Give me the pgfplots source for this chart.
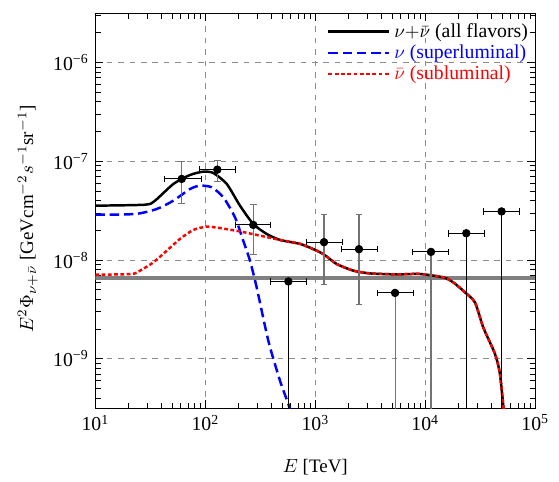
\documentclass[border=0pt]{standalone}
\usepackage{fontspec}
\setmainfont{Liberation Serif}
\usepackage{pgfplots}
\pgfplotsset{compat=1.18}

\begin{document}
\begin{tikzpicture}
\begin{axis}[
  name=ax,
  scale only axis, width=231.6pt, height=207.9pt,
  xmode=log, ymode=log,
  xmin=10, xmax=1e5, ymin=3.16e-10, ymax=3.16e-6,
  xtick={10,100,1000,10000,100000},
  xticklabels={10\textsuperscript{1},10\textsuperscript{2},10\textsuperscript{3},10\textsuperscript{4},10\textsuperscript{5}},
  ytick={1e-10,1e-9,1e-8,1e-7,1e-6,1e-5},
  yticklabels={10\textsuperscript{−10},10\textsuperscript{−9},10\textsuperscript{−8},10\textsuperscript{−7},10\textsuperscript{−6},10\textsuperscript{−5}},
  tick label style={font=\fontsize{10.4}{12}\selectfont},
  label style={font=\fontsize{10.4}{12}\selectfont},
  grid=major, major grid style={dashed, black!45, line width=0.5pt},
  tick style={black, line width=0.5pt},
  axis line style={line width=0.6pt},
  xlabel={$E$ [TeV]},
  every axis x label/.style={at={(axis description cs:0.5,0)}, yshift=-30.9pt, anchor=center},
  ylabel={$E^2\Phi_{\nu+\bar{\nu}}$ [GeVcm$^{-2}$$s^{-1}$sr$^{-1}$]},
  every axis y label/.style={at={(axis description cs:0,0.48)}, xshift=-35.6pt, rotate=90, anchor=center},
  legend style={at={(axis description cs:0.997,0.99)}, anchor=north east, draw=none, fill=none,
    font=\fontsize{10.4}{12}\selectfont, row sep=-1.6pt, inner sep=1pt},
  legend cell align=left,
  legend image code/.code={\draw[#1] (0pt,0pt) -- (32pt,0pt);},
]
% reference level
\addplot[forget plot, draw=black!50, line width=1.7pt] coordinates {(10,6.59e-9) (1e5,6.59e-9)};

% all flavors
\addplot[black, line width=1.3pt, smooth, tension=0.4] coordinates {
(10,3.56e-8) (28.4,3.64e-8) (34.9,4.00e-8) (51.2,5.90e-8) (72.6,7.28e-8)
(95.9,7.87e-8) (118.3,7.62e-8) (156.7,5.90e-8) (206.5,3.56e-8) (272.9,2.32e-8)
(361.4,1.84e-8) (477.5,1.60e-8) (726.1,1.46e-8) (959.4,1.29e-8) (1183,1.15e-8)
(1567,9.12e-9) (2213,7.82e-9) (3141,7.33e-9) (5495,7.16e-9) (8954,7.23e-9)
(14590,6.68e-9) (17990,5.94e-9) (22960,4.71e-9) (28310,3.72e-9) (33650,2.08e-9)
(43050,1.12e-9) (47750,7.0e-10) (52500,2.5e-10)};
\addlegendentry{$\nu{+}\bar{\nu}$ (all flavors)}

% superluminal
\addplot[blue, line width=1.3pt, dash pattern=on 5pt off 2.5pt, smooth, tension=0.4] coordinates {
(10,2.88e-8) (23.0,2.93e-8) (36.1,3.29e-8) (51.2,4.00e-8) (72.6,5.25e-8)
(89.5,5.68e-8) (114.3,5.46e-8) (145.9,4.32e-8) (186.2,2.71e-8) (221.3,1.57e-8)
(254.7,9.86e-9) (293.1,5.28e-9) (374.1,1.52e-9) (477.5,6.0e-10) (588.8,3.09e-10)
(631,2.0e-10)};
\addlegendentry{\textcolor{blue}{$\nu$ (superluminal)}}

% subluminal
\addplot[red, line width=1.3pt, dash pattern=on 2pt off 1.3pt, smooth, tension=0.4] coordinates {
(10,7.11e-9) (21.4,7.23e-9) (25.5,7.82e-9) (33.7,9.48e-9) (44.6,1.245e-8)
(58.9,1.64e-8) (77.8,2.02e-8) (103.0,2.18e-8) (136.1,2.11e-8) (206.5,1.95e-8)
(314.1,1.77e-8) (477.5,1.60e-8) (726.1,1.46e-8) (959.4,1.29e-8) (1183,1.15e-8)
(1567,9.12e-9) (2213,7.82e-9) (3141,7.33e-9) (5495,7.16e-9) (8954,7.23e-9)
(14590,6.68e-9) (17990,5.94e-9) (22960,4.71e-9) (28310,3.72e-9) (33650,2.08e-9)
(43050,1.12e-9) (47750,7.0e-10) (52500,2.5e-10)};
\addlegendentry{\textcolor{red}{$\bar{\nu}$ (subluminal)}}

% data: vertical error bars (grey)
\addplot[forget plot, only marks, mark=none,
  error bars/.cd, y dir=both, y explicit,
  error bar style={black!55, line width=0.55pt},
  error mark options={black!55, rotate=90, mark size=1.75pt}]
coordinates {
(61.0,6.64e-8) += (0,3.36e-8) -= (0,2.88e-8)
(128.5,8.24e-8) += (0,2.06e-8) -= (0,2.02e-8)
(272.9,2.27e-8) += (0,1.43e-8) -= (0,1.12e-8)
(1200,1.52e-8) += (0,1.41e-8) -= (0,9.47e-9)
(2495,1.29e-8) += (0,1.64e-8) -= (0,9.37e-9)
(5310,4.65e-9) += (0,0) -= (0,4.6e-9)
(11270,1.21e-8) += (0,0) -= (0,1.2e-8)};

% data: vertical error bars (black)
\addplot[forget plot, only marks, mark=none,
  error bars/.cd, y dir=both, y explicit,
  error bar style={black, line width=0.55pt},
  error mark options={black, rotate=90, mark size=1.75pt}]
coordinates {
(569,6.08e-9) += (0,0) -= (0,6.0e-9)
(23600,1.87e-8) += (0,0) -= (0,1.86e-8)
(49400,3.11e-8) += (0,0) -= (0,3.1e-8)};

% data: horizontal bins and points
\addplot[forget plot, only marks, mark=*, mark size=0.9pt, black,
  error bars/.cd, x dir=both, x explicit,
  error bar style={black, line width=0.55pt},
  error mark options={black, rotate=90, mark size=1.75pt}]
coordinates {
(61.0,6.64e-8) += (30.2,0) -= (18.8,0)
(128.5,8.24e-8) += (60.3,0) -= (40.4,0)
(272.9,2.27e-8) += (114.4,0) -= (86.7,0)
(569,6.08e-9) += (253.2,0) -= (175.4,0)
(1200,1.52e-8) += (558,0) -= (378,0)
(2495,1.29e-8) += (1169,0) -= (773,0)
(5310,4.65e-9) += (2470,0) -= (1646,0)
(11270,1.21e-8) += (5060,0) -= (3596,0)
(23600,1.87e-8) += (10760,0) -= (7420,0)
(49400,3.11e-8) += (22210,0) -= (15440,0)};
\end{axis}
\path ([xshift=-50.2pt,yshift=-37.2pt]ax.south west) rectangle ([xshift=12.5pt,yshift=7pt]ax.north east);
\end{tikzpicture}
\end{document}
